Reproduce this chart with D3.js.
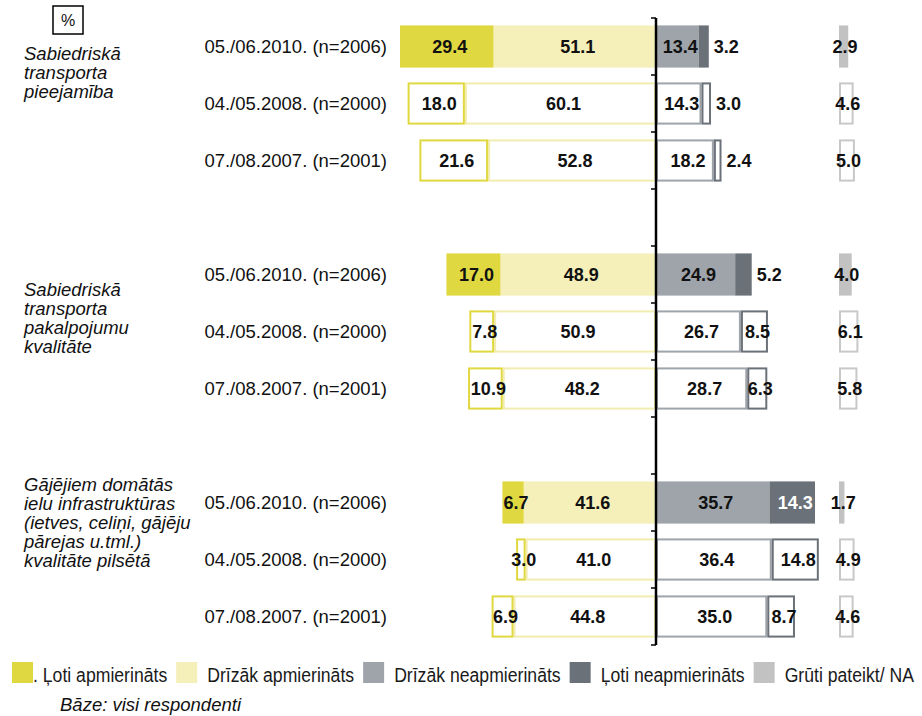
<!DOCTYPE html>
<html>
<head>
<meta charset="utf-8">
<script src="https://cdn.jsdelivr.net/npm/d3@7"></script>
<style>
  body { margin: 0; background: #fff; }
  text { font-family: "Liberation Sans", Arial, sans-serif; }
</style>
</head>
<body>
<div id="chart"></div>
<script>
// survey waves (rows inside each group)
const waves = ["05./06.2010. (n=2006)", "04./05.2008. (n=2000)", "07./08.2007. (n=2001)"];
const groups = [
  ["Sabiedriskā", "transporta", "pieejamība"],
  ["Sabiedriskā", "transporta", "pakalpojumu", "kvalitāte"],
  ["Gājējiem domātās", "ielu infrastruktūras", "(ietves, celiņi, gājēju", "pārejas u.tml.)", "kvalitāte pilsētā"]
];
// values, 3 waves per group, in group order
const veryS   = [29.4, 18.0, 21.6, 17.0, 7.8, 10.9, 6.7, 3.0, 6.9];
const ratherS = [51.1, 60.1, 52.8, 48.9, 50.9, 48.2, 41.6, 41.0, 44.8];
const ratherU = [13.4, 14.3, 18.2, 24.9, 26.7, 28.7, 35.7, 36.4, 35.0];
const veryU   = [3.2, 3.0, 2.4, 5.2, 8.5, 6.3, 14.3, 14.8, 8.7];
const na      = [2.9, 4.6, 5.0, 4.0, 6.1, 5.8, 1.7, 4.9, 4.6];
const legendLabels = [". Ļoti apmierināts", "Drīzāk apmierināts", "Drīzāk neapmierināts", "Ļoti neapmierināts", "Grūti pateikt/ NA"];

const colors = ["#e0d840", "#f5f0b9", "#9ea4aa", "#6b7178", "#c2c2c2"];
const outline = ["#e0d840", "#f2ecb0", "#9ea4aa", "#6b7178", "#c8c8c8"];

const W = 922, H = 716;
const svg = d3.select("#chart").append("svg")
  .attr("width", W).attr("height", H);

// slots: 3 rows per group, an empty slot between groups
const slots = [];
groups.forEach((g, gi) => {
  waves.forEach((w, wi) => slots.push(`g${gi}r${wi}`));
  if (gi < groups.length - 1) slots.push(`gap${gi}`);
});

const y = d3.scaleBand().domain(slots).range([18, 645])
  .paddingInner(0.26).paddingOuter(0.13);

const x = d3.scaleLinear().domain([-80.5, 0]).range([400, 656]);
const xNA = d3.scaleLinear().domain([0, 10]).range([839, 870.8]);

const rows = [];
groups.forEach((g, gi) => waves.forEach((w, wi) => {
  const i = gi * 3 + wi;
  rows.push({
    key: `g${gi}r${wi}`, wave: w, solid: wi === 0,
    vs: veryS[i], rs: ratherS[i], ru: ratherU[i], vu: veryU[i], na: na[i]
  });
}));

// segments: [x0, x1, colour index]
function segments(d) {
  return [
    { a: -d.rs, b: 0, c: 1, v: d.rs },
    { a: -(d.rs + d.vs), b: -d.rs, c: 0, v: d.vs },
    { a: 0, b: d.ru, c: 2, v: d.ru },
    { a: d.ru, b: d.ru + d.vu, c: 3, v: d.vu }
  ];
}

const rowG = svg.selectAll("g.row").data(rows).enter().append("g")
  .attr("class", "row")
  .attr("transform", d => `translate(0,${y(d.key)})`);

const bh = y.bandwidth();

rowG.each(function(d) {
  const g = d3.select(this);
  segments(d).forEach(s => {
    const x0 = x(s.a), x1 = x(s.b);
    if (d.solid) {
      g.append("rect").attr("x", x0).attr("y", 0)
        .attr("width", x1 - x0).attr("height", bh)
        .attr("fill", colors[s.c]);
    } else {
      g.append("rect").attr("x", x0 + 1).attr("y", 1)
        .attr("width", x1 - x0 - 2).attr("height", bh - 2)
        .attr("fill", "#fff").attr("stroke", outline[s.c]).attr("stroke-width", 2);
    }
  });
  // NA bar
  const n0 = xNA(0), n1 = xNA(d.na);
  if (d.solid) {
    g.append("rect").attr("x", n0).attr("y", 0).attr("width", n1 - n0).attr("height", bh)
      .attr("fill", colors[4]);
  } else {
    g.append("rect").attr("x", n0 + 1).attr("y", 1).attr("width", n1 - n0 - 2).attr("height", bh - 2)
      .attr("fill", "#fff").attr("stroke", outline[4]).attr("stroke-width", 2);
  }

  // value labels
  segments(d).forEach(s => {
    const outside = s.c === 3 && s.v < 6;
    const tx = outside ? x(s.b) + 5 : (x(s.a) + x(s.b)) / 2 + 3;
    g.append("text")
      .attr("x", tx).attr("y", bh / 2).attr("dy", "0.36em")
      .attr("text-anchor", outside ? "start" : "middle")
      .attr("font-size", 18).attr("font-weight", "bold")
      .attr("fill", (!outside && d.solid && s.c === 3) ? "#fff" : "#111")
      .text(s.v.toFixed(1));
  });
  g.append("text")
    .attr("x", (n0 + n1) / 2 + 1.5).attr("y", bh / 2).attr("dy", "0.36em")
    .attr("text-anchor", "middle")
    .attr("font-size", 18).attr("font-weight", "bold").attr("fill", "#111")
    .text(d.na.toFixed(1));

  // wave label
  g.append("text")
    .attr("x", 387).attr("y", bh / 2).attr("dy", "0.36em")
    .attr("text-anchor", "end").attr("font-size", 18.5).attr("fill", "#111")
    .text(d.wave);
});

// central axis with ticks on band boundaries
const x0px = x(0);
const r = y.range();
svg.append("line")
  .attr("x1", x0px).attr("x2", x0px).attr("y1", r[0]).attr("y2", r[1])
  .attr("stroke", "#000").attr("stroke-width", 2.5);
svg.selectAll("line.tick").data(d3.range(slots.length + 1)).enter().append("line")
  .attr("class", "tick")
  .attr("x1", x0px - 5).attr("x2", x0px)
  .attr("y1", i => r[0] + i * y.step()).attr("y2", i => r[0] + i * y.step())
  .attr("stroke", "#000").attr("stroke-width", 1.5);

// group labels
const labelShift = [13.5, 21.5, -11.5];
groups.forEach((lines, gi) => {
  const top = y(`g${gi}r0`) + bh / 2 + labelShift[gi];
  const t = svg.append("text")
    .attr("font-size", 18.5).attr("font-style", "italic").attr("fill", "#111");
  lines.forEach((l, li) => {
    t.append("tspan").attr("x", 24).attr("y", top + li * 19).text(l);
  });
});

// percent box
svg.append("rect").attr("x", 53).attr("y", 6).attr("width", 30).attr("height", 28)
  .attr("fill", "none").attr("stroke", "#000").attr("stroke-width", 1.5);
svg.append("text").attr("x", 68).attr("y", 26).attr("text-anchor", "middle")
  .attr("font-size", 16).attr("fill", "#111").text("%");

// legend (condensed text: squeezed horizontally)
const squeeze = 0.84;
const leg = svg.append("g").attr("transform", "translate(12,662)");
let lx = 0;
legendLabels.forEach((l, i) => {
  leg.append("rect").attr("x", lx).attr("y", 0).attr("width", 21).attr("height", 21)
    .attr("fill", colors[i]);
  const gap = i === 0 ? 0 : 10;
  const tx = lx + 21 + gap;
  const t = leg.append("text")
    .attr("transform", `translate(${tx},20) scale(${squeeze},1)`)
    .attr("font-size", 21)
    .attr("fill", "#1a1a1a").text(l);
  const w = t.node().getComputedTextLength() * squeeze;
  lx += 21 + gap + w + 9;
});

svg.append("text").attr("x", 60).attr("y", 711)
  .attr("font-size", 18.5).attr("font-style", "italic").attr("fill", "#111")
  .text("Bāze: visi respondenti");
</script>
</body>
</html>
